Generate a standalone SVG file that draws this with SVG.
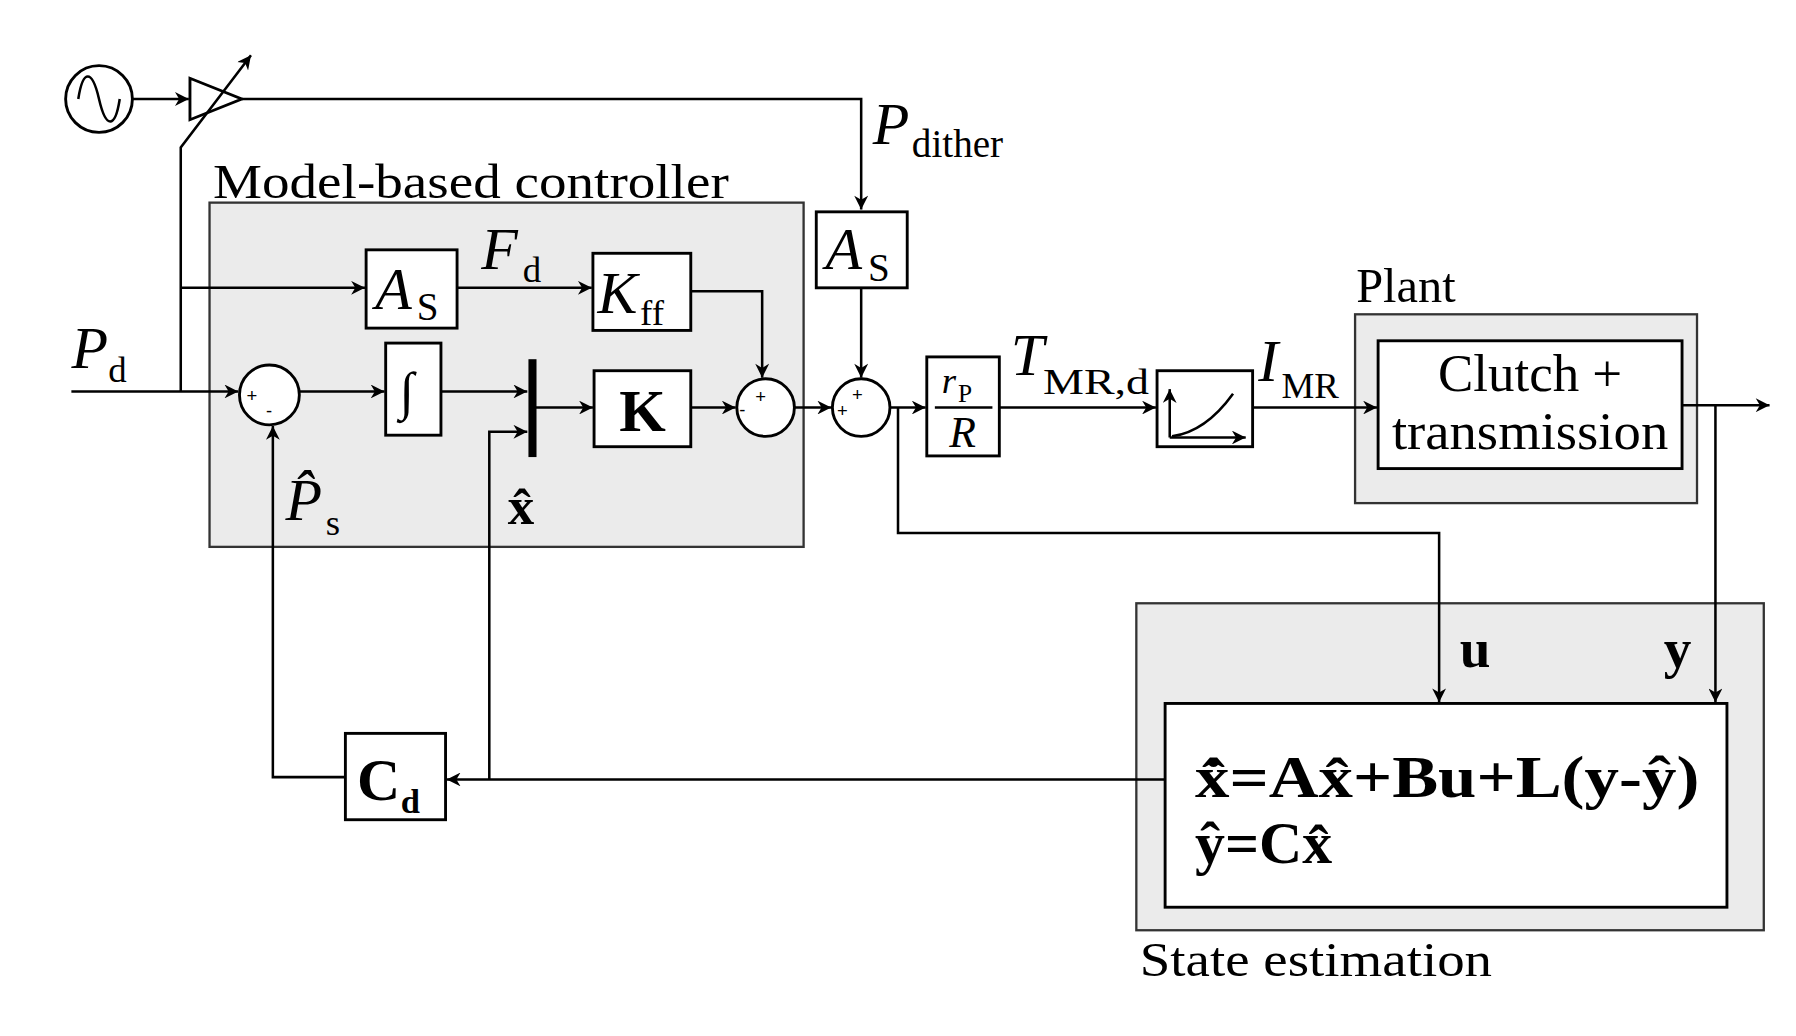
<svg xmlns="http://www.w3.org/2000/svg" width="1796" height="1036" viewBox="0 0 1796 1036">
<defs>
<marker id="ar" viewBox="0 0 10 10" refX="10" refY="5" markerWidth="16" markerHeight="12" markerUnits="userSpaceOnUse" orient="auto"><path d="M0,0 L10,5 L0,10 L3,5 z" fill="#000"/></marker>
</defs>
<style>
.ln{fill:none;stroke:#000;stroke-width:2.2}
.bx{fill:#fff;stroke:#000;stroke-width:2.5}
.grp{fill:#ebebeb;stroke:#333;stroke-width:2}
text{font-family:"Liberation Serif","Times New Roman",serif;fill:#000}
.it{font-style:italic}
.b{font-weight:bold}
.sg{font-family:"Liberation Sans",Arial,sans-serif;font-size:16px}
</style>
<rect width="1796" height="1036" fill="#fff"/>
<g transform="scale(1.1513)">
<g id="controller-group"><rect class="grp" x="182" y="176" width="516" height="299"/><text x="185" y="172" font-size="42" textLength="448" lengthAdjust="spacingAndGlyphs">Model-based controller</text></g>
<g id="plant-group"><rect class="grp" x="1177" y="273" width="297" height="164"/><text x="1178" y="262" font-size="42">Plant</text></g>
<g id="est-group"><rect class="grp" x="987" y="524" width="545" height="284"/><text x="990" y="848" font-size="42" textLength="306" lengthAdjust="spacingAndGlyphs">State estimation</text></g>

<g id="amp"><path class="bx" d="M165,68 L165,104 L210,86 z"/></g>
<g id="connectors">
<path class="ln" d="M115,86 H164" marker-end="url(#ar)"/>
<path class="ln" d="M210,86 H748 V182" marker-end="url(#ar)"/>
<path class="ln" d="M157,340 V128 L218,48" marker-end="url(#ar)"/>
<path class="ln" d="M157,250 H317" marker-end="url(#ar)"/>
<path class="ln" d="M397,250 H514" marker-end="url(#ar)"/>
<path class="ln" d="M600,253 H662 V328" marker-end="url(#ar)"/>
<path class="ln" d="M62,340 H207" marker-end="url(#ar)"/>
<path class="ln" d="M260,340 H334" marker-end="url(#ar)"/>
<path class="ln" d="M383,340 H458" marker-end="url(#ar)"/>
<path class="ln" d="M465,354 H515" marker-end="url(#ar)"/>
<path class="ln" d="M600,354 H639" marker-end="url(#ar)"/>
<path class="ln" d="M690,354 H722" marker-end="url(#ar)"/>
<path class="ln" d="M748,250 V328" marker-end="url(#ar)"/>
<path class="ln" d="M773,354 H804" marker-end="url(#ar)"/>
<path class="ln" d="M868,354 H1004" marker-end="url(#ar)"/>
<path class="ln" d="M1088,354 H1196" marker-end="url(#ar)"/>
<path class="ln" d="M1461,352 H1537" marker-end="url(#ar)"/>
<path class="ln" d="M1490,352 V610" marker-end="url(#ar)"/>
<path class="ln" d="M780,354 V463 H1250 V610" marker-end="url(#ar)"/>
<path class="ln" d="M1012,677 H388" marker-end="url(#ar)"/>
<path class="ln" d="M425,677 V375 H458" marker-end="url(#ar)"/>
<path class="ln" d="M300,675 H237 V370" marker-end="url(#ar)"/>
</g>

<g id="source"><circle class="bx" cx="86" cy="86" r="29"/><path class="ln" d="M68,86 C72,60 80,60 86,86 C92,112 100,112 104,86"/></g>
<text x="758" y="125" font-size="52" class="it">P</text><text x="792" y="136" font-size="34">dither</text>

<g id="as1"><rect class="bx" x="318" y="217" width="79" height="68"/><text x="326" y="268" font-size="52" class="it">A</text><text x="362" y="278" font-size="34">S</text></g>
<text x="418" y="234" font-size="52" class="it">F</text><text x="454" y="245" font-size="32">d</text>
<g id="kff"><rect class="bx" x="515" y="220" width="85" height="67"/><text x="519" y="272" font-size="52" class="it">K</text><text x="556" y="282" font-size="32">ff</text></g>
<text x="62" y="320" font-size="52" class="it">P</text><text x="94" y="332" font-size="32">d</text>
<g id="sum1"><circle class="bx" cx="234" cy="343" r="26"/><text class="sg" x="214" y="349">+</text><text class="sg" x="231" y="362">-</text></g>
<g id="integ"><rect class="bx" x="335" y="298" width="48" height="80"/><text x="347" y="355" font-size="46">∫</text></g>
<g id="mux"><rect x="459" y="312" width="7" height="85" fill="#000"/></g>
<g id="kbox"><rect class="bx" x="516" y="322" width="84" height="66"/><text x="558" y="374" font-size="52" class="b" text-anchor="middle">K</text></g>
<g id="sum2"><circle class="bx" cx="665" cy="354" r="25"/><text class="sg" x="642" y="361">-</text><text class="sg" x="656" y="350">+</text></g>
<g id="sum3"><circle class="bx" cx="748" cy="354" r="25"/><text class="sg" x="727" y="362">+</text><text class="sg" x="740" y="348">+</text></g>
<g id="as2"><rect class="bx" x="709" y="184" width="79" height="66"/><text x="717" y="234" font-size="52" class="it">A</text><text x="754" y="244" font-size="34">S</text></g>
<g id="gain"><rect class="bx" x="805" y="310" width="63" height="86"/><text x="818" y="341" font-size="32" class="it">r</text><text x="832" y="349" font-size="22">P</text><line class="ln" x1="812" y1="354" x2="862" y2="354"/><text x="836" y="388" font-size="38" class="it" text-anchor="middle">R</text></g>
<text x="878" y="326" font-size="52" class="it">T</text><text x="906" y="342" font-size="32" textLength="92" lengthAdjust="spacingAndGlyphs">MR,d</text>
<g id="curve"><rect class="bx" x="1005" y="322" width="83" height="66"/><path class="ln" d="M1016,380 V338" marker-end="url(#ar)"/><path class="ln" d="M1016,380 H1082" marker-end="url(#ar)"/><path class="ln" d="M1018,379 C1040,376 1058,360 1071,342"/></g>
<text x="1093" y="331" font-size="52" class="it">I</text><text x="1113" y="346" font-size="32">MR</text>
<g id="plant"><rect class="bx" x="1197" y="296" width="264" height="111"/><text x="1329" y="340" font-size="46" text-anchor="middle">Clutch +</text><text x="1329" y="390" font-size="46" text-anchor="middle" textLength="240" lengthAdjust="spacingAndGlyphs">transmission</text></g>
<g id="observer"><rect class="bx" x="1012" y="611" width="488" height="177"/><text x="1268" y="579" font-size="48" class="b">u</text><text x="1445" y="579" font-size="48" class="b">y</text><text x="1038" y="692" font-size="52" class="b" textLength="438" lengthAdjust="spacingAndGlyphs">x̂̇=Ax̂+Bu+L(y-ŷ)</text><text x="1038" y="750" font-size="52" class="b">ŷ=Cx̂</text></g>
<g id="cd"><rect class="bx" x="300" y="637" width="87" height="75"/><text x="310" y="695" font-size="52" class="b">C</text><text x="348" y="706" font-size="30" class="b">d</text></g>
<text x="248" y="452" font-size="52" class="it">P̂</text><text x="283" y="465" font-size="32">s</text>
<text x="441" y="455" font-size="46" class="b">x̂</text>
</g>
</svg>
